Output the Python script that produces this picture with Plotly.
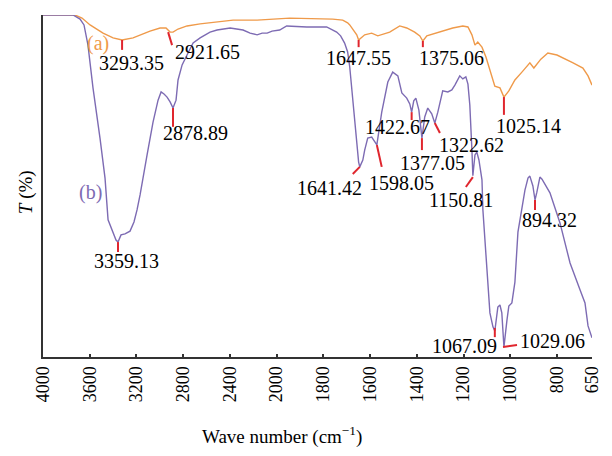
import numpy as np
import plotly.graph_objects as go

# ---- data (wavenumber cm-1, transmittance arbitrary %) ----
wn_a = [4000, 3726, 3666, 3597, 3486, 3400, 3323, 3229, 3084, 2998, 2947, 2912, 2887, 2844,
        2767, 2655, 2373, 2167, 1944, 1760, 1717, 1696, 1687, 1657, 1649, 1623, 1593, 1567,
        1516, 1473, 1443, 1409, 1387, 1374, 1357, 1301, 1246, 1203, 1181, 1164, 1151, 1139,
        1121, 1104, 1087, 1066, 1044, 1027, 1006, 980, 950, 916, 899, 869, 839, 800, 731,
        689, 667, 650]
t_a = [100.0, 100.0, 99.1, 97.1, 94.7, 93.3, 92.7, 93.3, 95.3, 96.2, 96.2, 95.0, 95.0, 95.9,
       96.8, 97.4, 98.5, 98.5, 99.1, 98.8, 98.5, 97.7, 97.1, 94.2, 92.7, 94.2, 94.7, 93.9,
       95.0, 96.8, 96.2, 95.0, 93.9, 92.4, 93.9, 95.0, 96.2, 96.8, 96.5, 94.2, 91.2, 92.1,
       90.6, 87.7, 83.9, 79.2, 78.7, 76.0, 77.8, 81.0, 83.3, 86.0, 84.5, 87.1, 88.9, 88.3, 86.0,
       84.5, 82.2, 79.5]

wn_b = [4000, 3743, 3683, 3649, 3615, 3572, 3512, 3469, 3443, 3400, 3375, 3358, 3332, 3298,
        3255, 3221, 3195, 3169, 3144, 3109, 3058, 3015, 2989, 2964, 2938, 2912, 2887, 2861,
        2844, 2809, 2767, 2715, 2655, 2570, 2510, 2398, 2287, 2227, 2167, 2124, 2081, 2039,
        1987, 1957, 1871, 1786, 1743, 1726, 1709, 1696, 1687, 1674, 1657, 1649, 1644, 1631,
        1623, 1610, 1593, 1580, 1571, 1550, 1524, 1503, 1481, 1464, 1443, 1430, 1422, 1413,
        1404, 1391, 1378, 1366, 1353, 1336, 1323, 1310, 1289, 1267, 1250, 1237, 1216, 1203,
        1190, 1181, 1173, 1164, 1160, 1151, 1143, 1134, 1121, 1117, 1100, 1087, 1074, 1066,
        1053, 1044, 1036, 1031, 1027, 1014, 1006, 993, 980, 967, 950, 937, 924, 916, 903,
        894, 886, 873, 864, 830, 787, 744, 701, 680, 667, 650]
t_b = [100.0, 100.0, 98.8, 97.1, 91.2, 78.7, 64.0, 52.3, 40.1, 36.3, 34.2, 33.6, 35.7, 36.0,
       36.8, 39.5, 43.0, 47.4, 51.8, 59.1, 68.7, 75.1, 77.5, 76.9, 76.0, 74.6, 72.8, 75.1,
       81.0, 85.4, 88.3, 91.8, 93.3, 95.0, 95.6, 96.2, 95.6, 94.7, 94.2, 94.7, 94.7, 95.3,
       95.6, 96.8, 96.5, 96.5, 95.0, 93.9, 91.8, 89.2, 84.8, 75.1, 63.5, 57.0, 55.6, 57.6,
       60.5, 64.0, 64.3, 62.9, 62.0, 71.6, 80.4, 83.3, 82.2, 77.2, 75.7, 74.0, 71.6, 74.9,
       75.7, 72.2, 64.0, 70.2, 72.8, 71.1, 68.4, 71.6, 77.8, 77.5, 78.1, 79.5, 82.2, 81.3,
       81.9, 79.8, 73.7, 60.5, 53.0, 59.1, 59.9, 57.6, 51.8, 43.0, 27.5, 12.9, 8.8, 7.6,
       14.6, 15.2, 12.9, 5.0, 2.9, 10.8, 14.9, 15.8, 21.9, 36.5, 43.0, 48.8, 52.3, 52.9, 50.0,
       45.9, 48.2, 52.6, 52.0, 48.0, 39.2, 27.5, 19.6, 15.8, 9.1, 5.6]

tick_vals = [4000, 3600, 3200, 2800, 2400, 2000, 1800, 1600, 1400, 1200, 1000, 800, 650]

# peak labels: text, text position (wn, T)
peak_text = ["3293.35", "2921.65", "2878.89", "3359.13", "1647.55", "1375.06", "1025.14",
             "1422.67", "1377.05", "1322.62", "1641.42", "1598.05", "1150.81", "894.32",
             "1067.09", "1029.06"]
peak_text_wn = [3246, 2595, 2698, 3281, 1649, 1250, 920, 1481, 1331, 1164, 1773, 1464,
                1211, 830, 1194, 821]
peak_text_t = [86.0, 89.2, 65.5, 28.1, 87.4, 87.4, 67.5, 67.3, 56.7, 62.0, 49.4, 50.9,
               45.9, 40.1, 3.2, 4.7]
# marker ticks: start (wn, T) -> end (wn, T)
mk_wn1 = [3323, 2929, 2887, 3358, 1649, 1374, 1027, 1422, 1378, 1323, 1644, 1571, 1160, 894, 1066, 1031]
mk_t1 = [92.7, 95.0, 72.8, 33.6, 92.7, 92.4, 76.0, 71.6, 64.0, 68.4, 55.6, 62.0, 52.6, 45.9, 8.5, 2.9]
mk_wn2 = [3323, 2895, 2887, 3358, 1649, 1374, 1027, 1422, 1378, 1301, 1674, 1550, 1190, 894, 1066, 971]
mk_t2 = [89.8, 91.2, 67.3, 30.7, 90.6, 90.6, 70.8, 69.3, 60.5, 65.5, 53.5, 55.6, 49.7, 43.0, 5.8, 3.5]

series_labels = ["(a)", "(b)"]
series_label_wn = [3529, 3597]
series_label_t = [91.8, 48.2]

ORANGE = "#EF9A4A"
PURPLE = "#7D6BB3"
RED = "#E0262E"
FONT = "Liberation Serif"


def u(w):
    """Axis with scale change at 2000 cm-1 (half scale above)."""
    w = np.asarray(w, dtype=float)
    return np.where(w > 2000, 2000 + (w - 2000) / 2.0, w)


fig = go.Figure()
fig.add_trace(go.Scatter(x=u(wn_a), y=t_a, mode="lines",
                         line=dict(color=ORANGE, width=1.4), showlegend=False))
fig.add_trace(go.Scatter(x=u(wn_b), y=t_b, mode="lines",
                         line=dict(color=PURPLE, width=1.4), showlegend=False))

for x1, y1, x2, y2 in zip(u(mk_wn1), mk_t1, u(mk_wn2), mk_t2):
    fig.add_shape(type="line", x0=x1, y0=y1, x1=x2, y1=y2, xref="x", yref="y",
                  line=dict(color=RED, width=2))

for txt, xw, yt in zip(peak_text, u(peak_text_wn), peak_text_t):
    fig.add_annotation(x=xw, y=yt, text=txt, showarrow=False, xanchor="center",
                       yanchor="middle", font=dict(family=FONT, size=20, color="black"))

for txt, xw, yt, col in zip(series_labels, u(series_label_wn), series_label_t, [ORANGE, PURPLE]):
    fig.add_annotation(x=xw, y=yt, text=txt, showarrow=False, xanchor="center",
                       yanchor="middle", font=dict(family=FONT, size=20, color=col))

fig.add_annotation(x=0.435, y=-0.23, xref="paper", yref="paper",
                   text="Wave number (cm<sup>−1</sup>)", showarrow=False,
                   xanchor="center", yanchor="middle",
                   font=dict(family=FONT, size=19, color="black"))
fig.add_annotation(x=-0.031, y=0.482, xref="paper", yref="paper",
                   text="<i>T</i> (%)", showarrow=False, textangle=-90,
                   xanchor="center", yanchor="middle",
                   font=dict(family=FONT, size=19, color="black"))

fig.update_xaxes(range=[float(u(4000)), 650], tickvals=u(tick_vals).tolist(),
                 ticktext=[str(v) for v in tick_vals], tickangle=-90,
                 ticks="inside", ticklen=3, tickcolor="#333", tickwidth=1.5,
                 showline=True, linecolor="#333", linewidth=2, showgrid=False,
                 zeroline=False, tickfont=dict(family=FONT, size=18, color="black"),
                 ticklabelstandoff=0)
fig.update_yaxes(range=[0, 100], showline=True, linecolor="#333", linewidth=2,
                 showgrid=False, zeroline=False, showticklabels=False, ticks="")

fig.update_layout(width=604, height=448, margin=dict(l=35, r=20, t=7, b=99),
                  plot_bgcolor="white", paper_bgcolor="white")

fig.write_html("out.html")
